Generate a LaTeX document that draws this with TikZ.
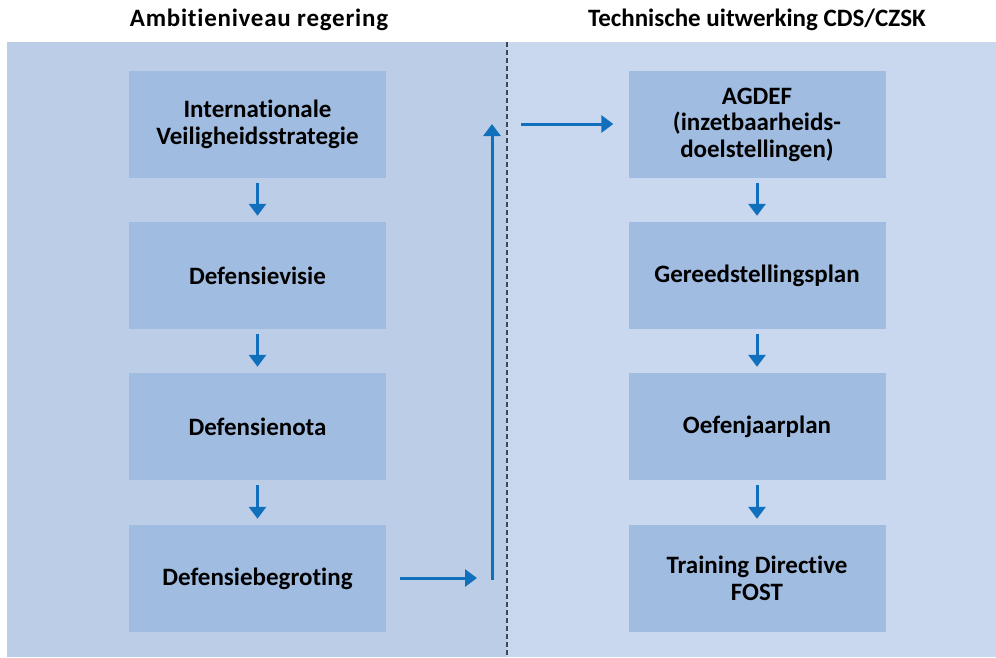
\documentclass[tikz,border=0pt]{standalone}
\usepackage{fontspec}
\setmainfont{Carlito}[Ligatures=NoCommon]
\usetikzlibrary{arrows.meta}
\definecolor{leftbg}{HTML}{BCCDE7}
\definecolor{rightbg}{HTML}{C9D8EE}
\definecolor{boxc}{HTML}{A1BCE1}
\definecolor{arrc}{HTML}{1170BC}
\definecolor{dashc}{HTML}{404850}
\tikzset{
  box/.style={fill=boxc, draw=none, minimum width=257pt, minimum height=107pt, align=center, font=\bfseries\fontsize{25}{26.5}\selectfont, inner sep=0pt},
  head/.style={font=\bfseries\fontsize{25}{28}\selectfont, inner sep=0pt},
  arr/.style={draw=arrc, line width=3pt, -{Triangle[length=12pt,width=17pt]}}
}
\begin{document}
\begin{tikzpicture}[x=1pt,y=-1pt]
\useasboundingbox (0,0) rectangle (996,657);
\fill[leftbg] (7,42) rectangle (507,657);
\fill[rightbg] (507,42) rectangle (996,657);
\draw[dashc, line width=1.3pt, dash pattern=on 5pt off 3pt] (507,42) -- (507,657);
\node[head] (hl) at (259,20) {\addfontfeature{LetterSpace=3}Ambitieniveau regering};
\node[head] (hr) at (757,20) {Technische uitwerking CDS/CZSK};
\node[box] (l1) at (257.5,124.5) {Internationale\\Veiligheidsstrategie};
\node[box] (l2) at (257.5,275.5) {Defensievisie};
\node[box] (l3) at (257.5,426.5) {Defensienota};
\node[box] (l4) at (257.5,578.5) {Defensiebegroting};
\node[box] (r1) at (757,124.5) {AGDEF\\(inzetbaarheids-\\doelstellingen)};
\node[box] (r2) at (757,275.5) {Gereedstellingsplan};
\node[box] (r3) at (757,426.5) {Oefenjaarplan};
\node[box] (r4) at (757,578.5) {Training Directive\\FOST};
\foreach \a/\b in {l1/l2,l2/l3,l3/l4,r1/r2,r2/r3,r3/r4}{
  \draw[arr] ([yshift=-5pt]\a.south) -- ([yshift=6pt]\b.north);
}
\coordinate (ha) at (400,578);
\coordinate (hb) at (477,578);
\coordinate (va) at (492,580);
\coordinate (vb) at (492,124);
\coordinate (ta) at (521,124);
\draw[arr] (ha) -- (hb);
\draw[arr] (va) -- (vb);
\draw[arr, shorten >=15pt] (ta) -- (ta -| r1.west);
\end{tikzpicture}
\end{document}
